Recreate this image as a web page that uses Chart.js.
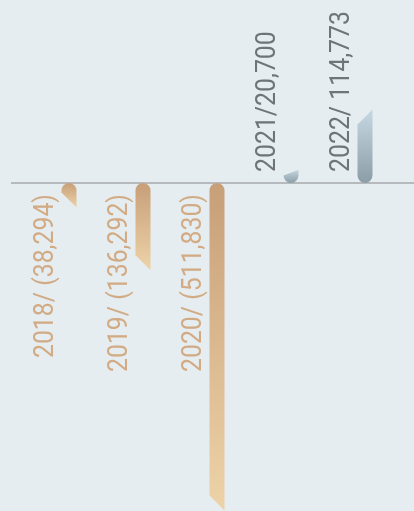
<!DOCTYPE html>
<html><head><meta charset="utf-8">
<script src="https://cdn.jsdelivr.net/npm/chart.js@4/dist/chart.umd.min.js"></script>
<style>html,body{margin:0;padding:0;background:#e5edf1;overflow:hidden}#wrap{width:414px;height:511px;position:relative}canvas{display:block}</style>
</head><body><div id="wrap"><canvas id="c" width="414" height="511"></canvas></div>
<script>
const years = ['2018', '2019', '2020', '2021', '2022'];
const values = [-38294, -136292, -511830, 20700, 114773];
const valueLabels = ['2018/ (38,294)', '2019/ (136,292)', '2020/ (511,830)', '2021/20,700', '2022/ 114,773'];
const yMin = -512500;
const yMax = 285900;

const BG = '#e5edf1';

const shapes = {
  id: 'shapes',
  beforeDraw(chart) {
    const ctx = chart.ctx;
    ctx.save();
    ctx.fillStyle = BG;
    ctx.fillRect(0, 0, chart.width, chart.height);
    ctx.restore();
  },
  afterDatasetsDraw(chart) {
    const ctx = chart.ctx;
    const meta = chart.getDatasetMeta(0);
    const zeroY = chart.scales.y.getPixelForValue(0);
    // baseline
    ctx.save();
    ctx.strokeStyle = '#b6babd';
    ctx.lineWidth = 1.8;
    ctx.beginPath();
    ctx.moveTo(11, zeroY);
    ctx.lineTo(chart.width, zeroY);
    ctx.stroke();
    ctx.restore();

    meta.data.forEach((el, i) => {
      const p = el.getProps(['x', 'y', 'base', 'width'], true);
      const x = p.x, y = p.y, base = p.base, w = p.width;
      const r = w / 2;
      const neg = y > base;
      const sign = neg ? 1 : -1;
      const h = Math.abs(y - base);
      const left = x - r, right = x + r;
      const slant = Math.max(0, Math.min(w, h - r));
      const cy = base + sign * r;
      const g = ctx.createLinearGradient(0, base, 0, y);
      if (neg) { g.addColorStop(0, '#c79f78'); g.addColorStop(1, '#eed3a8'); }
      else { g.addColorStop(0, '#8b9da6'); g.addColorStop(1, '#c6d8e1'); }
      ctx.save();
      ctx.fillStyle = g;
      ctx.beginPath();
      ctx.moveTo(right, y);
      ctx.lineTo(right, cy);
      if (!neg) {
        ctx.arc(x, cy, r, 0, Math.PI, false);
        ctx.lineTo(left, y + slant);
      } else {
        ctx.arc(x, cy, r, 0, Math.PI, true);
        ctx.lineTo(left, y - slant);
      }
      ctx.closePath();
      ctx.fill();
      ctx.restore();

      // label
      ctx.save();
      ctx.font = '400 27px Roboto';
      ctx.fillStyle = neg ? '#d2ab84' : '#6f7478';
      ctx.textBaseline = 'alphabetic';
      const ly = neg ? zeroY + 11 : zeroY - 11;
      ctx.translate(x - 16, ly);
      ctx.rotate(-Math.PI / 2);
      ctx.scale(0.92, 1);
      ctx.textAlign = neg ? 'right' : 'left';
      ctx.fillText(valueLabels[i], 0, 0);
      ctx.restore();
    });
  }
};

new Chart(document.getElementById('c'), {
  type: 'bar',
  data: {
    labels: years,
    datasets: [{
      data: values,
      backgroundColor: 'rgba(0,0,0,0)',
      borderWidth: 0,
      barThickness: 15
    }]
  },
  options: {
    responsive: false,
    animation: false,
    devicePixelRatio: 1,
    layout: { padding: { left: 32, right: 12, top: 0, bottom: 0 } },
    plugins: { legend: { display: false }, tooltip: { enabled: false }, title: { display: false } },
    scales: {
      x: { display: false },
      y: { display: false, min: yMin, max: yMax }
    }
  },
  plugins: [shapes]
});
</script>
</body></html>
